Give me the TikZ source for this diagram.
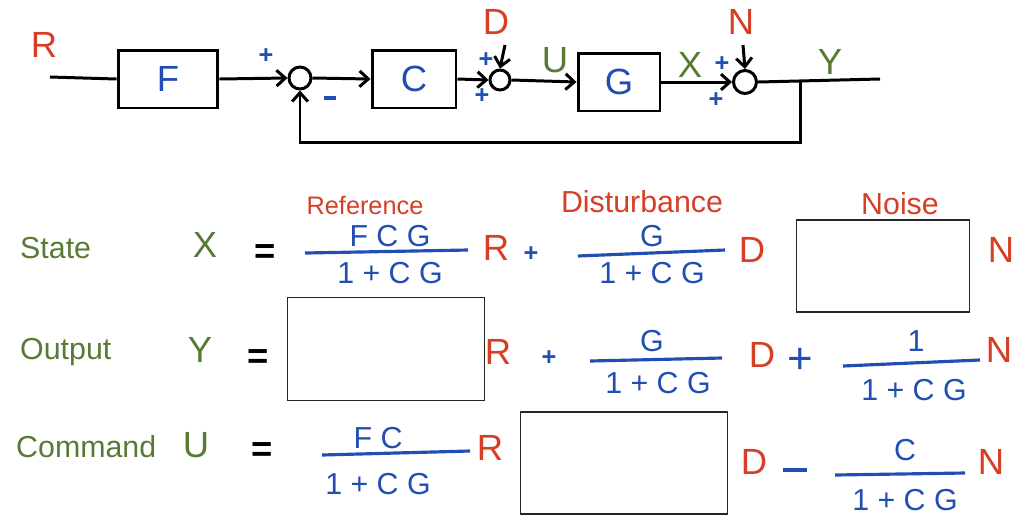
\documentclass[tikz,border=0pt]{standalone}
\usepackage{fontspec}
\setmainfont{Liberation Sans}
\usetikzlibrary{arrows.meta,positioning,calc}
\definecolor{inkred}{RGB}{214,62,38}
\definecolor{inkblue}{RGB}{32,78,178}
\definecolor{inkgreen}{RGB}{88,122,52}

\begin{document}
\begin{tikzpicture}[x=0.02cm, y=-0.02cm,
		block/.style={draw, line width=1.7pt, minimum width=#1, minimum height=1.16cm,
			font=\huge, text=inkblue},
		sum/.style={draw, circle, line width=1.7pt, minimum size=#1, inner sep=0pt},
		sig/.style={font=\Large\bfseries, text=#1, inner sep=1pt},
		lbl/.style={font=\LARGE, text=inkgreen, anchor=west},
		num/.style={font=\LARGE, text=inkblue},
		bar/.style={draw=inkblue, line width=1.8pt},
		hole/.style={draw=black!85, line width=0.9pt, minimum width=#1},
		arr/.style={-{Straight Barb[length=5pt,width=9pt]}, line width=1.7pt},
		line/.style={line width=1.7pt}
		]
		\useasboundingbox (0,0) rectangle (1017,515);
		
		% ── Block diagram ──
		\node[block=2cm] (F) at (168,79) {F};
		\node[block=1.68cm] (C) at (414,79) {C};
		\node[block=1.64cm] (G) at (619,82) {G};
		\node[sum=0.44cm] (s1) at (300,78) {};
		\node[sum=0.4cm] (s2) at (500,80) {};
		\node[sum=0.46cm] (s3) at (745,82) {};
		
		\coordinate (in) at (50,77);
		\coordinate (out) at (880,79);
		\coordinate (tap) at (800,80);
		\coordinate (dtop) at (505,45);
		\coordinate (ntop) at (743,45);
		
		\node[font=\huge, text=inkred] (R) at (44,45) {R};
		\node[font=\huge, text=inkred] (D) at (496,22) {D};
		\node[font=\huge, text=inkred] (N) at (741,22) {N};
		\node[font=\huge, text=inkgreen] (U) at (555,60) {U};
		\node[font=\huge, text=inkgreen] (X) at (690,65) {X};
		\node[font=\huge, text=inkgreen] (Y) at (830,62) {Y};
		
		\node[sig=inkblue] (p1) at (266,56) {+};
		\node[text=inkblue] (m1) at (330,98) {\rule{7pt}{2.2pt}};
		\node[sig=inkblue] (p2) at (486,60) {+};
		\node[sig=inkblue] (p3) at (482,96) {+};
		\node[sig=inkblue] (p4) at (722,64) {+};
		\node[sig=inkblue] (p5) at (716,100) {+};
		
		\draw[line] (in) -- (F.west);
		\draw[arr] (F.east) -- (s1.west);
		\draw[arr] (s1.east) -- (C.west);
		\draw[arr] (C.east) -- (s2.west);
		\draw[arr] (dtop) -- (s2.north);
		\draw[arr] (s2.east) -- (G.west);
		\draw[arr] (G.east) -- (s3.west);
		\draw[arr] (ntop) -- (s3.north);
		\draw[line] (s3.east) -- (out);
		\draw[arr] (tap) -- ++(0,62) -| (s1.south);
		
		% ── Row 1: State ──
		\node[lbl] (state) at (14,248) {State};
		\node[font=\huge, text=inkgreen] (xs) at (205,245) {X};
		\node[font=\huge\bfseries] (eq1) at (265,254) {=};
		\node[num] (n1) at (390,236) {F C G};
		\node[num] (d1) at (390,273) {1 + C G};
		\draw[bar] (305,253) -- (468,250);
		\node[font=\Large, text=inkred] (refl) at (365,205) {Reference};
		\node[font=\huge, text=inkred] (r1) at (496,248) {R};
		\node[sig=inkblue] (pl1) at (531,254) {+};
		\node[num] (n2) at (652,236) {G};
		\node[num] (d2) at (652,273) {1 + C G};
		\draw[bar] (578,256) -- (725,250);
		\node[font=\LARGE, text=inkred] (disl) at (642,202) {Disturbance};
		\node[font=\huge, text=inkred] (d1r) at (752,250) {D};
		\node[hole=3.46cm, minimum height=1.84cm] (box1) at (883,266) {};
		\node[font=\LARGE, text=inkred] (noil) at (900,204) {Noise};
		\node[font=\huge, text=inkred] (n1r) at (1001,250) {N};
		
		% ── Row 2: Output ──
		\node[lbl] (output) at (14,352) {Output};
		\node[font=\huge, text=inkgreen] (ys) at (200,350) {Y};
		\node[font=\huge\bfseries] (eq2) at (258,359) {=};
		\node[hole=3.94cm, minimum height=2.06cm] (box2) at (386,349) {};
		\node[font=\huge, text=inkred] (r2) at (498,352) {R};
		\node[sig=inkblue] (pl2) at (549,358) {+};
		\node[num] (n3) at (652,341) {G};
		\node[num] (d3) at (658,383) {1 + C G};
		\draw[bar] (590,361) -- (722,358);
		\node[font=\huge, text=inkred] (d2r) at (762,355) {D};
		\node[font=\Huge, text=inkblue] (pl3) at (800,361) {+};
		\node[num] (n4) at (916,341) {1};
		\node[num] (d4) at (914,390) {1 + C G};
		\draw[bar] (843,366) -- (980,360);
		\node[font=\huge, text=inkred] (n2r) at (999,350) {N};
		
		% ── Row 3: Command ──
		\node[lbl] (command) at (10,447) {Command};
		\node[font=\huge, text=inkgreen] (us) at (196,445) {U};
		\node[font=\huge\bfseries] (eq3) at (262,452) {=};
		\node[num] (n5) at (378,438) {F C};
		\node[num] (d5) at (378,484) {1 + C G};
		\draw[bar] (322,455) -- (470,451);
		\node[font=\huge, text=inkred] (r3) at (490,448) {R};
		\node[hole=4.14cm, minimum height=2.04cm] (box3) at (624,463) {};
		\node[font=\huge, text=inkred] (d3r) at (754,462) {D};
		\node[text=inkblue] (mi3) at (795,470) {\rule{14pt}{2.4pt}};
		\node[num] (n6) at (905,450) {C};
		\node[num] (d6) at (905,500) {1 + C G};
		\draw[bar] (835,475) -- (965,473);
		\node[font=\huge, text=inkred] (n3r) at (991,462) {N};
	\end{tikzpicture}
\end{document}
